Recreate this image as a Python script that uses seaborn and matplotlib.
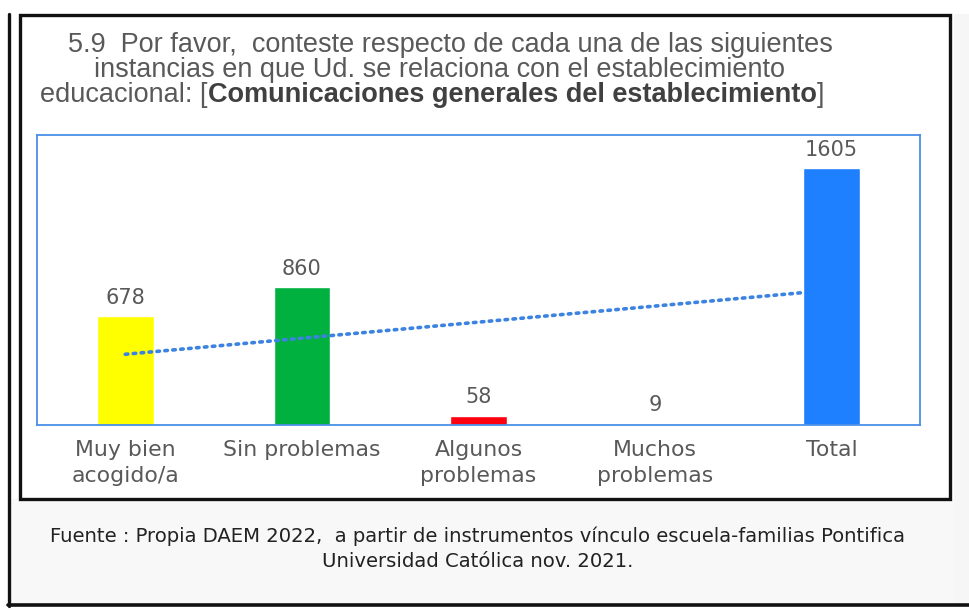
import numpy as np
import pandas as pd
import matplotlib
matplotlib.use("Agg")
import matplotlib.pyplot as plt
from matplotlib.patches import Rectangle
from matplotlib.lines import Line2D
import seaborn as sns

# Survey answers for question 5.9
categories = ["Muy bien\nacogido/a", "Sin problemas", "Algunos\nproblemas",
              "Muchos\nproblemas", "Total"]
counts = [678, 860, 58, 9, 1605]
bar_colors = ["#FFFF00", "#00B140", "#FF0010", "#7F7F7F", "#1F80FF"]

title_lines = [
    "5.9  Por favor,  conteste respecto de cada una de las siguientes",
    "instancias en que Ud. se relaciona con el establecimiento",
]
title_last = ["educacional: [", "Comunicaciones generales del establecimiento", "]"]
footer = ("Fuente : Propia DAEM 2022,  a partir de instrumentos vínculo escuela-familias Pontifica\n"
          "Universidad Católica nov. 2021.")

sns.set_theme(style="white")
plt.rcParams["font.family"] = ["Liberation Sans", "DejaVu Sans"]

W, H = 969, 610
fig = plt.figure(figsize=(W / 100, H / 100), dpi=100, facecolor="white")


def fx(px):
    return px / W


def fy(py):
    return 1 - py / H


# page background and frames
fig.patches.append(Rectangle((fx(10), fy(605)), fx(959), (605 - 499) / H,
                             transform=fig.transFigure, facecolor="#f8f8f8",
                             edgecolor="none", zorder=0))
fig.patches.append(Rectangle((fx(954), fy(605)), fx(15), 591 / H,
                             transform=fig.transFigure, facecolor="#f6f6f6",
                             edgecolor="none", zorder=0))
fig.patches.append(Rectangle((fx(20), fy(499)), fx(930), 484 / H,
                             transform=fig.transFigure, facecolor="white",
                             edgecolor="#111111", linewidth=2.4, zorder=1))
fig.lines.append(Line2D([fx(9), fx(9)], [fy(14), fy(606)], transform=fig.transFigure,
                        color="#111111", lw=2.4, zorder=2))
fig.lines.append(Line2D([fx(8), fx(969)], [fy(605), fy(605)], transform=fig.transFigure,
                        color="#111111", lw=2.6, zorder=2))

ax = fig.add_axes([fx(37), fy(425), fx(920 - 37), (425 - 135) / H])
ax.set_zorder(3)

df = pd.DataFrame({"cat": categories, "n": counts})
sns.barplot(data=df, x="cat", y="n", hue="cat", palette=bar_colors, legend=False,
            width=0.32, saturation=1, ax=ax, zorder=2)
# the total bar sits in front of the trend line
ax.patches[-1].set_zorder(4)

# linear trend across the categories
pos = np.arange(len(counts))
sns.regplot(x=pos, y=np.array(counts, dtype=float), scatter=False, ci=None, ax=ax,
            line_kws=dict(color="#3C82E0", lw=2.6, linestyle=(0, (0.7, 1.5)),
                          dash_capstyle="round", zorder=3))

vfont = ["DejaVu Sans"]
for i, v in enumerate(counts):
    ax.annotate(f"{v}", (i, v), xytext=(0, 6), textcoords="offset points",
                ha="center", va="bottom", fontsize=15, family=vfont, color="#595959",
                zorder=5)

ax.set_xlim(-0.5, 4.5)
ax.set_ylim(0, 1810)
ax.set_xlabel("")
ax.set_ylabel("")
ax.set_yticks([])
ax.tick_params(axis="x", length=0, pad=11, labelsize=15.8, labelcolor="#595959")
for lab in ax.get_xticklabels():
    lab.set_linespacing(1.38)
    lab.set_family(vfont)
for s in ax.spines.values():
    s.set_visible(True)
    s.set_color("#4A8FE7")
    s.set_linewidth(1.3)
    s.set_zorder(6)

# title
tcol = "#595959"
tsize = 19.5
for k, line in enumerate(title_lines):
    fig.text(fx(450 - 10 * k), fy(45 + 25 * k), line, ha="center", va="center",
             fontsize=tsize, color=tcol, zorder=5)
parts = []
for j, piece in enumerate(title_last):
    parts.append(fig.text(0, fy(95), piece, ha="left", va="center", fontsize=tsize,
                          color=tcol if j != 1 else "#404040",
                          fontweight="bold" if j == 1 else "normal", zorder=5))
fig.canvas.draw()
r = fig.canvas.get_renderer()
widths = [p.get_window_extent(r).width for p in parts]
x0 = 432 - sum(widths) / 2
for p, w in zip(parts, widths):
    p.set_x(fx(x0))
    x0 += w

fig.text(fx(478), fy(549), footer, ha="center", va="center", fontsize=14.1,
         family=["DejaVu Sans"], color="#222222", linespacing=1.4, zorder=5)

fig.savefig("out.png", dpi=100, facecolor=fig.get_facecolor())
